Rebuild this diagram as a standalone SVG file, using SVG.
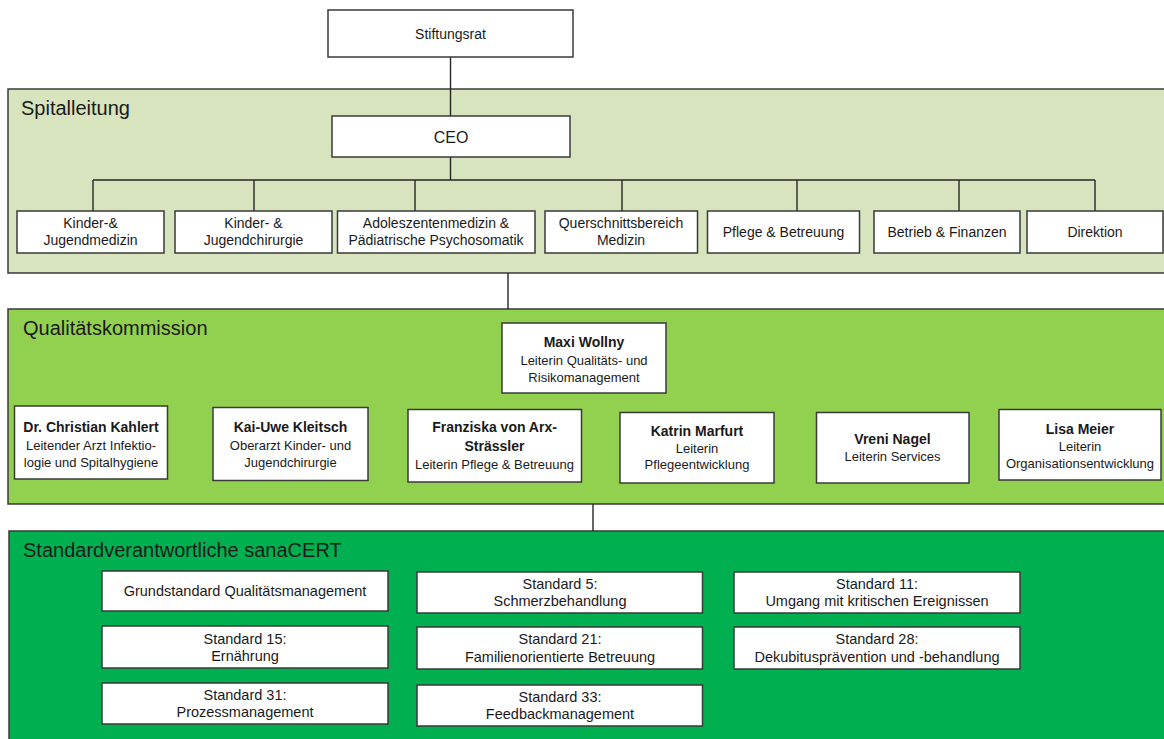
<svg xmlns="http://www.w3.org/2000/svg" width="1164" height="739" viewBox="0 0 1164 739">
<style>
  .panel{stroke:#3a3a3a;stroke-width:1.5}
  .box{fill:#ffffff;stroke:#3a3a3a;stroke-width:1.5}
  .conn{stroke:#262626;stroke-width:1.4;fill:none}
  text{font-family:"Liberation Sans",Arial,sans-serif;fill:#1a1a1a;text-anchor:middle}
  .title{font-size:20px;text-anchor:start}
  .t{font-size:14px}
  .std{font-size:14.5px}
  .nm{font-size:14px;font-weight:bold}
  .sub{font-size:13px}
</style>
<rect x="0" y="0" width="1164" height="739" fill="#ffffff"/>

<g id="panel-spitalleitung">
  <rect class="panel" x="8" y="89" width="1162" height="184" fill="#d7e4bd"/>
  <text class="title" x="21" y="115">Spitalleitung</text>
</g>
<g id="panel-qualitaetskommission">
  <rect class="panel" x="8" y="309" width="1162" height="195" fill="#92d050"/>
  <text class="title" x="23" y="335">Qualitätskommission</text>
</g>
<g id="panel-standard">
  <rect class="panel" x="9" y="531" width="1161" height="220" fill="#00b050"/>
  <text class="title" x="23" y="557">Standardverantwortliche sanaCERT</text>
</g>

<g id="connectors">
  <line class="conn" x1="450.5" y1="57" x2="450.5" y2="116"/>
  <line class="conn" x1="450.5" y1="157" x2="450.5" y2="180"/>
  <line class="conn" x1="93" y1="180" x2="1095" y2="180"/>
  <line class="conn" x1="93" y1="180" x2="93" y2="211"/>
  <line class="conn" x1="254" y1="180" x2="254" y2="211"/>
  <line class="conn" x1="415" y1="180" x2="415" y2="211"/>
  <line class="conn" x1="622" y1="180" x2="622" y2="211"/>
  <line class="conn" x1="797" y1="180" x2="797" y2="211"/>
  <line class="conn" x1="959" y1="180" x2="959" y2="211"/>
  <line class="conn" x1="1095" y1="180" x2="1095" y2="211"/>
  <line class="conn" x1="508" y1="273" x2="508" y2="309"/>
  <line class="conn" x1="593" y1="504" x2="593" y2="531"/>
</g>

<g id="stiftungsrat">
  <rect class="box" x="328" y="10" width="245" height="47"/>
  <text class="t" x="450.5" y="39">Stiftungsrat</text>
</g>
<g id="ceo">
  <rect class="box" x="332" y="116" width="238" height="41"/>
  <text x="451" y="142.5" font-size="16px">CEO</text>
</g>

<g id="kinder-jugendmedizin">
  <rect class="box" x="17" y="211" width="147" height="42"/>
  <text class="t" x="90.5" y="227.5">Kinder-&amp;</text>
  <text class="t" x="90.5" y="244.5">Jugendmedizin</text>
</g>
<g id="kinder-jugendchirurgie">
  <rect class="box" x="175" y="211" width="157" height="42"/>
  <text class="t" x="253.5" y="227.5">Kinder- &amp;</text>
  <text class="t" x="253.5" y="244.5">Jugendchirurgie</text>
</g>
<g id="adoleszentenmedizin">
  <rect class="box" x="337.5" y="211" width="197.5" height="42"/>
  <text class="t" x="436" y="227.5">Adoleszentenmedizin &amp;</text>
  <text class="t" x="436" y="244.5">Pädiatrische Psychosomatik</text>
</g>
<g id="querschnittsbereich">
  <rect class="box" x="545" y="211" width="152.5" height="42"/>
  <text class="t" x="621" y="227.5">Querschnittsbereich</text>
  <text class="t" x="621" y="244.5">Medizin</text>
</g>
<g id="pflege-betreuung">
  <rect class="box" x="707.5" y="211" width="152" height="42"/>
  <text class="t" x="783.5" y="237">Pflege &amp; Betreuung</text>
</g>
<g id="betrieb-finanzen">
  <rect class="box" x="874" y="211" width="146" height="42"/>
  <text class="t" x="947" y="237">Betrieb &amp; Finanzen</text>
</g>
<g id="direktion">
  <rect class="box" x="1027" y="211" width="136" height="42"/>
  <text class="t" x="1095" y="237">Direktion</text>
</g>

<g id="maxi-wollny">
  <rect class="box" x="502" y="323" width="164" height="70"/>
  <text class="nm" x="584" y="346.5">Maxi Wollny</text>
  <text class="sub" x="584" y="364.5">Leiterin Qualitäts- und</text>
  <text class="sub" x="584" y="381.5">Risikomanagement</text>
</g>
<g id="christian-kahlert">
  <rect class="box" x="14.5" y="406" width="153" height="73"/>
  <text class="nm" x="91" y="432">Dr. Christian Kahlert</text>
  <text class="sub" x="91" y="449.5">Leitender Arzt Infektio-</text>
  <text class="sub" x="91" y="466.5">logie und Spitalhygiene</text>
</g>
<g id="kai-uwe-kleitsch">
  <rect class="box" x="213" y="407.5" width="155" height="73"/>
  <text class="nm" x="290.5" y="432">Kai-Uwe Kleitsch</text>
  <text class="sub" x="290.5" y="449.5">Oberarzt Kinder- und</text>
  <text class="sub" x="290.5" y="466.5">Jugendchirurgie</text>
</g>
<g id="franziska-von-arx">
  <rect class="box" x="408" y="409.5" width="173.5" height="72.5"/>
  <text class="nm" x="494.5" y="432">Franziska von Arx-</text>
  <text class="nm" x="494.5" y="450.5">Strässler</text>
  <text class="sub" x="494.5" y="468.5">Leiterin Pflege &amp; Betreuung</text>
</g>
<g id="katrin-marfurt">
  <rect class="box" x="620" y="412.5" width="154" height="70.5"/>
  <text class="nm" x="697" y="435.5">Katrin Marfurt</text>
  <text class="sub" x="697" y="452.5">Leiterin</text>
  <text class="sub" x="697" y="469">Pflegeentwicklung</text>
</g>
<g id="vreni-nagel">
  <rect class="box" x="816.5" y="412.5" width="152.5" height="70.5"/>
  <text class="nm" x="892.5" y="443.5">Vreni Nagel</text>
  <text class="sub" x="892.5" y="460.5">Leiterin Services</text>
</g>
<g id="lisa-meier">
  <rect class="box" x="999" y="409.5" width="162" height="70.5"/>
  <text class="nm" x="1080" y="433.5">Lisa Meier</text>
  <text class="sub" x="1080" y="451">Leiterin</text>
  <text class="sub" x="1080" y="467.5">Organisationsentwicklung</text>
</g>

<g id="grundstandard">
  <rect class="box" x="102" y="571" width="286" height="40"/>
  <text class="std" x="245" y="596">Grundstandard Qualitätsmanagement</text>
</g>
<g id="standard-15">
  <rect class="box" x="102" y="626" width="286" height="42"/>
  <text class="std" x="245" y="643.5">Standard 15:</text>
  <text class="std" x="245" y="660.5">Ernährung</text>
</g>
<g id="standard-31">
  <rect class="box" x="102" y="683" width="286" height="41"/>
  <text class="std" x="245" y="700">Standard 31:</text>
  <text class="std" x="245" y="717">Prozessmanagement</text>
</g>
<g id="standard-5">
  <rect class="box" x="417" y="572" width="285.5" height="41"/>
  <text class="std" x="560" y="588.5">Standard 5:</text>
  <text class="std" x="560" y="606">Schmerzbehandlung</text>
</g>
<g id="standard-21">
  <rect class="box" x="417" y="627" width="285.5" height="42"/>
  <text class="std" x="560" y="644">Standard 21:</text>
  <text class="std" x="560" y="661.5">Familienorientierte Betreuung</text>
</g>
<g id="standard-33">
  <rect class="box" x="417" y="685" width="285.5" height="41"/>
  <text class="std" x="560" y="701.5">Standard 33:</text>
  <text class="std" x="560" y="719">Feedbackmanagement</text>
</g>
<g id="standard-11">
  <rect class="box" x="734" y="572" width="286" height="41"/>
  <text class="std" x="877" y="588.5">Standard 11:</text>
  <text class="std" x="877" y="606">Umgang mit kritischen Ereignissen</text>
</g>
<g id="standard-28">
  <rect class="box" x="734" y="627" width="286" height="42"/>
  <text class="std" x="877" y="644">Standard 28:</text>
  <text class="std" x="877" y="661.5">Dekubitusprävention und -behandlung</text>
</g>
</svg>
